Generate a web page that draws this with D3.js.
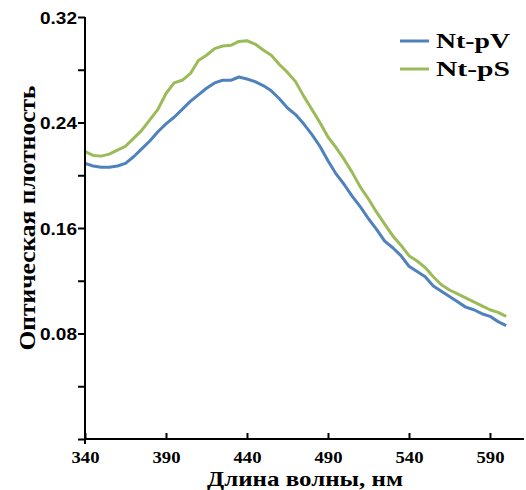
<!DOCTYPE html>
<html><head><meta charset="utf-8">
<script src="https://cdn.jsdelivr.net/npm/d3@7"></script>
<style>body{margin:0;background:#fff}svg{display:block}</style>
</head><body>
<svg id="c" width="526" height="490"></svg>
<script>
const wavelengths = d3.range(340, 601, 5);
const ntPV = [0.209,0.207,0.206,0.206,0.207,0.209,0.214,0.220,0.226,0.233,0.239,0.244,0.250,0.256,0.261,0.266,0.270,0.272,0.272,0.2745,0.273,0.271,0.268,0.264,0.258,0.251,0.246,0.239,0.231,0.222,0.211,0.201,0.193,0.184,0.176,0.167,0.159,0.150,0.145,0.139,0.131,0.127,0.123,0.116,0.112,0.108,0.104,0.100,0.098,0.095,0.093,0.089,0.086];
const ntPS = [0.218,0.215,0.2145,0.216,0.219,0.222,0.228,0.234,0.242,0.250,0.262,0.270,0.272,0.277,0.287,0.291,0.296,0.298,0.2985,0.3015,0.302,0.2995,0.295,0.291,0.284,0.278,0.271,0.260,0.250,0.240,0.229,0.221,0.212,0.202,0.191,0.182,0.172,0.163,0.154,0.147,0.139,0.135,0.130,0.123,0.117,0.113,0.110,0.107,0.104,0.101,0.098,0.096,0.093];
const seriesNames = ["Nt-pV", "Nt-pS"];
const seriesColors = ["#4F81BD", "#9BBB59"];
const xTicks = [340, 390, 440, 490, 540, 590];
const yTicks = [0, 0.04, 0.08, 0.12, 0.16, 0.20, 0.24, 0.28, 0.32];
const yLabels = [0.08, 0.16, 0.24, 0.32];

const svg = d3.select("#c");
const x = d3.scaleLinear().domain([340, 611]).range([85, 524]);
const y = d3.scaleLinear().domain([0, 0.32]).range([439, 17]);

// lines
const line = d3.line().x(d => x(d[0])).y(d => y(d[1]));
[ntPV, ntPS].forEach((vals, i) => {
  svg.append("path")
    .datum(wavelengths.map((w, j) => [w, vals[j]]))
    .attr("fill", "none").attr("stroke", seriesColors[i])
    .attr("stroke-width", 3).attr("stroke-linejoin", "round")
    .attr("d", line);
});

// y axis
const yAxis = svg.append("g").attr("transform", "translate(85,0)")
  .call(d3.axisLeft(y).tickValues(yTicks).tickSize(7).tickSizeOuter(0)
    .tickFormat(d => yLabels.some(v => Math.abs(v - d) < 1e-9) ? d3.format(".2f")(d) : ""));
yAxis.select(".domain").attr("stroke", "#000").attr("stroke-width", 2).attr("d", "M0,17V444");
yAxis.selectAll(".tick line").attr("stroke", "#000").attr("stroke-width", 2);
yAxis.selectAll(".tick text")
  .attr("font-family", "Liberation Sans, Arial, sans-serif").attr("font-weight", "bold")
  .attr("font-size", 17).attr("fill", "#000").attr("x", -8).attr("dy", "0.36em")
  .attr("textLength", function(){ return this.textContent ? 37 : null; })
  .attr("lengthAdjust", "spacingAndGlyphs");

// x axis
const xAxis = svg.append("g").attr("transform", "translate(0,439)")
  .call(d3.axisBottom(x).tickValues(xTicks).tickSize(-6).tickSizeOuter(0).tickFormat(d3.format("d")));
xAxis.select(".domain").attr("stroke", "#000").attr("stroke-width", 2).attr("d", "M85,0H524");
xAxis.selectAll(".tick line").attr("stroke", "#000").attr("stroke-width", 2);
xAxis.selectAll(".tick text")
  .attr("font-family", "Liberation Serif, Times New Roman, serif").attr("font-weight", "bold")
  .attr("font-size", 17).attr("fill", "#000").attr("y", 24).attr("dy", null)
  .attr("textLength", 28).attr("lengthAdjust", "spacingAndGlyphs");

// titles
svg.append("text").attr("x", 305).attr("y", 486).attr("text-anchor", "middle")
  .attr("font-family", "Liberation Serif, Times New Roman, serif").attr("font-weight", "bold")
  .attr("font-size", 21).attr("textLength", 196).attr("lengthAdjust", "spacingAndGlyphs")
  .text("Длина волны, нм");
svg.append("text").attr("transform", "translate(35,218) rotate(-90)").attr("text-anchor", "middle")
  .attr("font-family", "Liberation Serif, Times New Roman, serif").attr("font-weight", "bold")
  .attr("font-size", 23).attr("textLength", 265).attr("lengthAdjust", "spacingAndGlyphs")
  .text("Оптическая плотность");

// legend
seriesNames.forEach((n, i) => {
  const ly = 41 + i * 28;
  svg.append("line").attr("x1", 400).attr("x2", 429).attr("y1", ly).attr("y2", ly)
    .attr("stroke", seriesColors[i]).attr("stroke-width", 3);
  svg.append("text").attr("x", 436).attr("y", ly + 7)
    .attr("font-family", "Liberation Serif, Times New Roman, serif").attr("font-weight", "bold")
    .attr("font-size", 21).attr("textLength", 74).attr("lengthAdjust", "spacingAndGlyphs")
    .text(n);
});
</script>
</body></html>
